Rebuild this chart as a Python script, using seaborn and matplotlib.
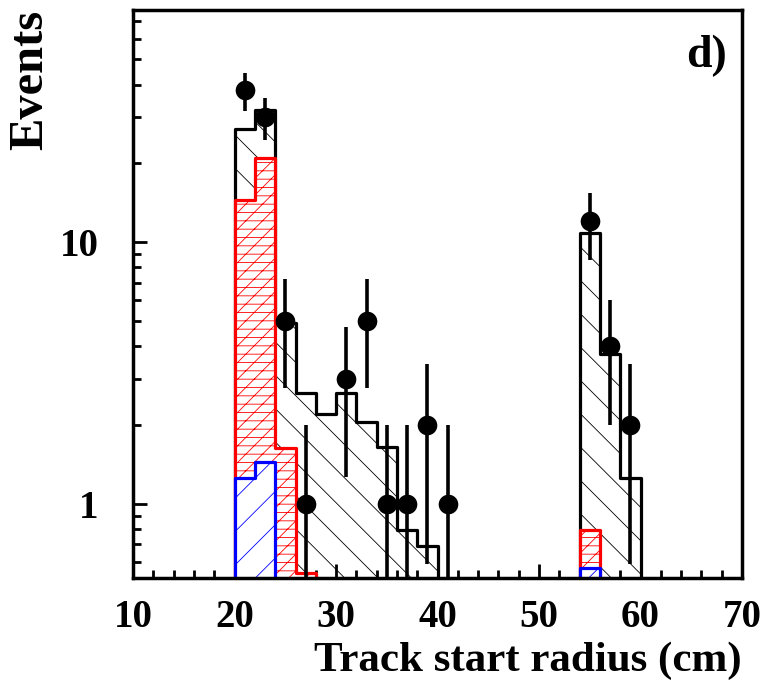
import numpy as np
import pandas as pd
import matplotlib
matplotlib.use('Agg')
import matplotlib.pyplot as plt
import seaborn as sns

# bin edges (cm) and bin contents
EDGES = list(range(20, 62, 2))
CENTERS = [e + 1 for e in EDGES[:-1]]
TOTAL = [27.0, 32.0, 4.9, 2.65, 2.2, 2.65, 2.05, 1.65, 0.79, 0.69,
         0, 0, 0, 0, 0, 0, 0, 10.8, 3.75, 1.25]
RED = [14.5, 21.0, 1.64, 0.545, 0, 0, 0, 0, 0, 0,
       0, 0, 0, 0, 0, 0, 0, 0.79, 0, 0]
BLUE = [1.25, 1.44, 0, 0, 0, 0, 0, 0, 0, 0,
        0, 0, 0, 0, 0, 0, 0, 0.57, 0, 0]

DATA_X = [21, 23, 25, 27, 31, 33, 35, 37, 39, 41, 55, 57, 59]
DATA_N = [38, 30, 5, 1, 3, 5, 1, 1, 2, 1, 12, 4, 2]

sns.set_style('white')
plt.rcParams['font.family'] = ['Liberation Serif', 'DejaVu Serif']
plt.rcParams['font.weight'] = 'bold'
plt.rcParams['text.color'] = 'black'
plt.rcParams['axes.labelcolor'] = 'black'
plt.rcParams['xtick.color'] = 'black'
plt.rcParams['ytick.color'] = 'black'
plt.rcParams['hatch.linewidth'] = 0.6

fig = plt.figure(figsize=(7.61, 6.8), dpi=100)
ax = fig.add_axes([0.175, 0.15, 0.8, 0.835])
ax.set_yscale('log')


def hist(vals, color, hatch, face):
    df = pd.DataFrame({'r': CENTERS, 'w': vals})
    sns.histplot(data=df, x='r', weights='w', bins=EDGES, element='step',
                 fill=True, ax=ax)
    art = ax.collections[-1]
    art.set_alpha(None)
    art.set_facecolor(face)
    art.set_edgecolor(color)
    art.set_hatch(hatch)
    art.set_linewidth(2.3)


hist(TOTAL, 'black', '\\', 'none')
hist(RED, 'red', '//--', 'white')
hist(BLUE, 'blue', '/', 'white')

n = np.array(DATA_N, dtype=float)
err = np.sqrt(n)
lo = np.minimum(err, n - 1e-3)
ax.errorbar(DATA_X, n, yerr=[lo, err], fmt='none', ecolor='black',
            elinewidth=2.6, capsize=0, zorder=5)
sns.scatterplot(x=DATA_X, y=DATA_N, color='black', s=200, edgecolor='black',
                linewidth=0, zorder=6, ax=ax)

ax.set_xlim(10, 70)
ax.set_ylim(0.52, 77)
ax.set_xticks([10, 20, 30, 40, 50, 60, 70])
ax.set_xticks(np.arange(10, 71, 2), minor=True)
ax.set_yticks([1, 10])
ax.set_yticklabels(['1', '10'])
ax.tick_params(axis='both', which='major', direction='in', length=10,
               width=2, labelsize=28, bottom=True, left=True,
               top=False, right=False)
ax.tick_params(axis='both', which='minor', direction='in', length=6,
               width=2, bottom=True, left=True, top=False, right=False)
ax.tick_params(axis='x', which='major', pad=15)
ax.tick_params(axis='y', which='major', pad=25)
for sp in ax.spines.values():
    sp.set_linewidth(2.5)
    sp.set_color('black')

ax.set_xlabel('Track start radius (cm)', fontsize=31, fontweight='bold',
              loc='right', labelpad=4)
ax.set_ylabel('Events', fontsize=35, fontweight='bold', loc='top',
              labelpad=5)
ax.text(0.975, 0.92, 'd)', transform=ax.transAxes, ha='right', va='center',
        fontsize=33, fontweight='bold')

fig.savefig('out.png', dpi=100)
